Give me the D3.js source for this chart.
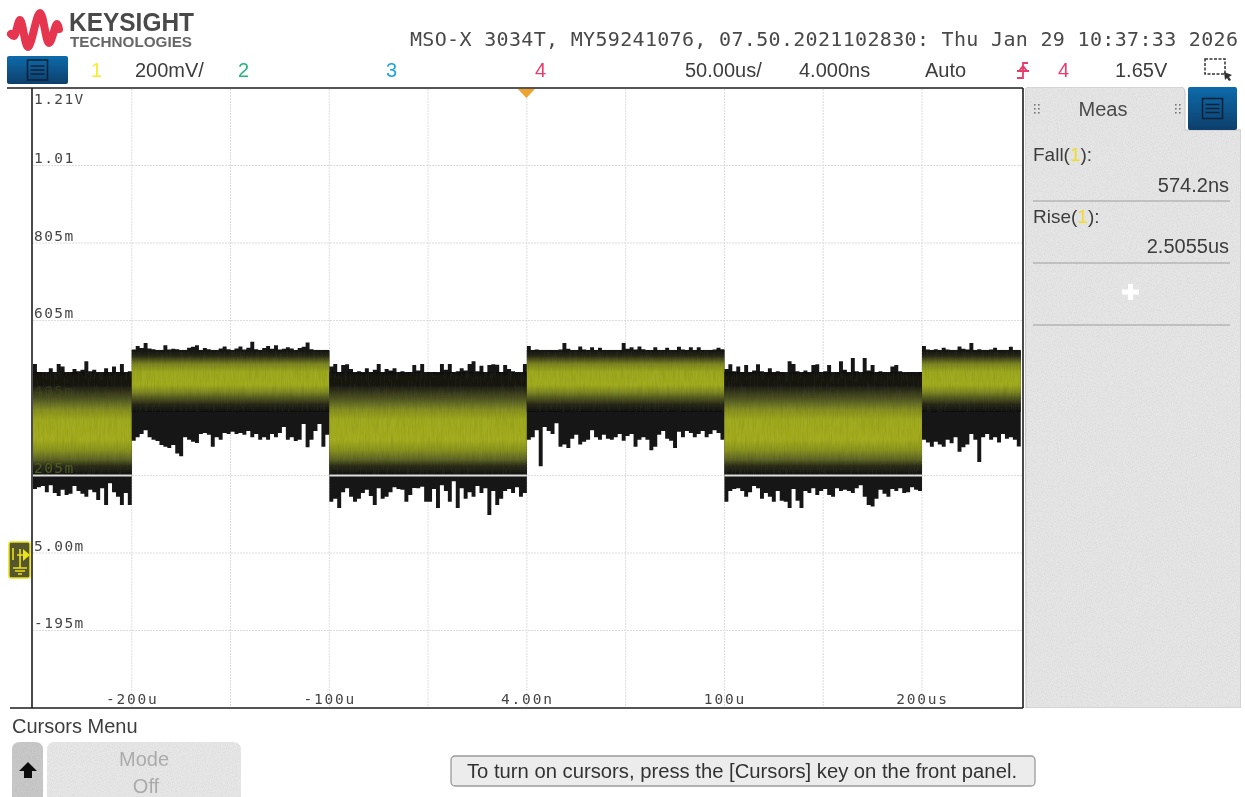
<!DOCTYPE html>
<html>
<head>
<meta charset="utf-8">
<script src="https://cdn.jsdelivr.net/npm/d3@7"></script>
<style>
  html, body { margin: 0; padding: 0; background: #fff; overflow: hidden; }
  text { font-family: "Liberation Sans", Arial, sans-serif; }
  .mono, .mono text { font-family: "DejaVu Sans Mono", monospace; }
</style>
</head>
<body>
<script>
// Scope settings
const statusLine = "MSO-X 3034T, MY59241076, 07.50.2021102830: Thu Jan 29 10:37:33 2026";
const voltTicks = [1205, 1005, 805, 605, 405, 205, 5, -195];
const voltLabels = ["1.21V", "1.01", "805m", "605m", "405m", "205m", "5.00m", "-195m"];
const timeGrid = [-200, -150, -100, -50, 0, 50, 100, 150, 200];
const timeTicks = [-200, -100, 0, 100, 200];
const timeLabels = ["-200u", "-100u", "4.00n", "100u", "200us"];

// Waveform: peak envelope in mV, one sample per 2us, split at each square wave edge
const segmentStart = [-250, -200, -100, 0, 100, 200];
const segmentLevel = ["low", "high", "low", "high", "low", "high"];
const sampleStep = 2;
const envelopeTop = [
  [493,472,470,468,482,470,493,486,467,470,480,474,478,500,474,478,468,466,482,470,486,472,493,470,474],
  [530,539,534,547,533,531,525,527,541,530,532,531,529,526,535,537,541,528,534,531,529,527,533,538,531,527,533,538,530,535,550,531,528,534,539,532,541,530,532,536,533,529,534,537,548,531,528,525,529,527],
  [486,493,472,490,492,480,470,474,466,482,472,478,493,470,480,476,482,470,474,468,472,490,476,493,468,466,472,470,493,478,493,472,474,482,476,493,500,474,488,470,490,492,491,472,490,480,474,468,464,493],
  [539,528,530,526,527,529,526,528,530,547,532,526,528,538,530,527,536,529,535,528,524,526,529,527,547,532,536,530,538,531,528,529,536,528,527,535,529,526,537,530,527,536,529,536,527,525,528,530,535,531],
  [480,492,474,486,472,490,470,476,492,474,468,482,470,474,472,470,500,493,474,470,476,468,490,492,472,474,490,470,468,500,478,470,508,474,470,508,476,490,472,474,468,470,486,490,474,468,466,472,470,472],
  [539,530,528,531,529,535,530,526,527,538,532,530,547,529,531,526,528,530,535,526,525,527,537,529,527]
];
const envelopeBottom = [
  [170,175,178,162,180,160,152,168,155,158,178,165,158,150,168,162,142,172,129,185,162,150,129,160,129],
  [295,304,312,322,304,297,294,284,279,276,284,262,255,304,297,292,289,312,315,310,279,304,297,315,312,318,312,315,310,320,304,312,297,304,297,312,304,315,330,297,304,294,297,338,278,297,320,338,279,310],
  [137,145,121,162,172,150,137,145,160,168,152,129,172,145,150,162,175,170,168,137,155,173,172,176,137,137,170,121,180,165,137,190,121,172,145,162,150,178,160,172,103,165,129,145,165,170,160,175,150,160],
  [297,304,322,229,330,320,312,340,279,285,276,300,310,285,292,297,322,304,297,310,300,297,304,312,295,307,312,279,297,304,297,270,279,310,320,300,295,276,318,304,320,315,304,312,320,304,312,322,315,297],
  [137,165,170,172,165,150,162,178,172,145,160,150,137,165,140,137,121,170,140,121,165,160,172,155,165,170,155,150,172,165,168,165,160,172,180,150,129,125,145,168,158,150,170,165,172,160,162,175,168,165],
  [297,290,279,292,285,279,297,288,304,266,278,285,312,297,240,304,312,297,304,290,312,300,304,297,280]
];

// Density of the trace through each level, brightest where the samples pile up
const bandVolts = {
  low: [472, 439, 421, 400, 374, 348, 297, 271, 245, 230, 206],
  high: [529, 513, 493, 472, 439, 421, 405, 387, 369]
};
const bandColors = {
  low: ["#191919", "#1c1c19", "#363820", "#555b26", "#868f25", "#a0aa22", "#a4ad20", "#8a9424", "#5c6226", "#2e301e", "#181818"],
  high: ["#191919", "#2c2d1b", "#7c8526", "#9ea922", "#a2ac21", "#808a25", "#545924", "#29291c", "#181818"]
};

// Keysight logo outline, pixels of the 60x46 mark
const logoWave = [[11, 34], [14, 36], [20, 20], [28, 47], [40, 13], [49, 43], [57, 24], [59, 29]];

const width = 1245, height = 797;
const svg = d3.select("body").append("svg").attr("width", width).attr("height", height);
const defs = svg.append("defs");

// Scanned paper look
defs.append("filter").attr("id", "soft").attr("x", 0).attr("y", 0).attr("width", 1).attr("height", 1)
  .append("feGaussianBlur").attr("stdDeviation", 0.42);
function addGrain(id, frequency, amount) {
  const f = defs.append("filter").attr("id", id).attr("x", 0).attr("y", 0).attr("width", 1).attr("height", 1);
  f.append("feTurbulence").attr("type", "fractalNoise").attr("baseFrequency", frequency).attr("numOctaves", 2).attr("seed", 4).attr("result", "n");
  f.append("feColorMatrix").attr("in", "n").attr("type", "matrix")
    .attr("values", `0 0 0 0 0  0 0 0 0 0  0 0 0 0 0  ${amount} 0 0 0 ${-amount * 0.4}`).attr("result", "g");
  f.append("feComposite").attr("in", "g").attr("in2", "SourceAlpha").attr("operator", "in").attr("result", "c");
  const m = f.append("feMerge");
  m.append("feMergeNode").attr("in", "SourceGraphic");
  m.append("feMergeNode").attr("in", "c");
}
addGrain("grain", 0.8, 0.2);
addGrain("streak", "0.7 0.06", 0.34);

const root = svg.append("g").attr("filter", "url(#soft)");
root.append("rect").attr("width", width).attr("height", height).attr("fill", "#fff");

// Scales
const x = d3.scaleLinear().domain([-250, 250]).range([33, 1020.75]);
const y = d3.scaleLinear().domain([-395, 1205]).range([708, 88]);

// Grid
const grid = root.append("g").attr("stroke", "#dcdcdc").attr("stroke-dasharray", "2 1");
grid.selectAll(".v").data(timeGrid).join("line").attr("class", "v")
  .attr("x1", d => x(d)).attr("x2", d => x(d)).attr("y1", 89).attr("y2", 707);
grid.selectAll(".h").data(voltTicks.slice(1)).join("line").attr("class", "h")
  .attr("x1", 33).attr("x2", 1022).attr("y1", d => y(d)).attr("y2", d => y(d));

// Trace
const trace = root.append("g");
const area = d3.area().curve(d3.curveStepAfter)
  .x(d => x(d.t)).y0(d => y(d.bottom)).y1(d => y(d.top));
segmentStart.forEach((start, s) => {
  const rows = envelopeTop[s].map((top, i) => ({t: start + i * sampleStep, top: top, bottom: envelopeBottom[s][i]}));
  rows.push({t: start + rows.length * sampleStep, top: rows[rows.length - 1].top, bottom: rows[rows.length - 1].bottom});
  trace.append("path").datum(rows).attr("d", area).attr("fill", "#191919");

  const level = segmentLevel[s];
  const volts = bandVolts[level];
  const top = y(volts[0]), bottom = y(volts[volts.length - 1]);
  const gradient = defs.append("linearGradient").attr("id", "band" + s)
    .attr("x1", 0).attr("x2", 0).attr("y1", 0).attr("y2", 1);
  gradient.selectAll("stop").data(volts).join("stop")
    .attr("offset", d => (y(d) - top) / (bottom - top))
    .attr("stop-color", (d, i) => bandColors[level][i]);
  trace.append("rect")
    .attr("x", x(start)).attr("width", x(rows[rows.length - 1].t) - x(start))
    .attr("y", top).attr("height", bottom - top)
    .attr("fill", `url(#band${s})`).attr("filter", "url(#streak)");
  if (level === "low") {
    trace.append("line").attr("x1", x(start)).attr("x2", x(rows[rows.length - 1].t))
      .attr("y1", y(205)).attr("y2", y(205)).attr("stroke", "#dedede").attr("stroke-width", 2);
  }
});

// Axis labels sit inside the graticule
const yAxis = d3.axisRight(y).tickValues(voltTicks).tickFormat((d, i) => voltLabels[i]).tickSize(0);
const yLabels = root.append("g").attr("class", "mono").attr("transform", "translate(32,0)").call(yAxis);
yLabels.select(".domain").remove();
yLabels.selectAll("text").attr("x", 2).attr("dy", (d, i) => i === 0 ? 15 : -3)
  .attr("font-size", 14.5).attr("letter-spacing", 1.4)
  .attr("fill", d => (d === 405 || d === 205) ? "#4c5a26" : "#454545")
  .attr("opacity", d => d === 405 ? 0.35 : 1);
const xAxis = d3.axisBottom(x).tickValues(timeTicks).tickFormat((d, i) => timeLabels[i]).tickSize(0);
const xLabels = root.append("g").attr("class", "mono").attr("transform", "translate(0,708)").call(xAxis);
xLabels.select(".domain").remove();
xLabels.selectAll("text").attr("y", -4).attr("dy", 0)
  .attr("font-size", 14.5).attr("letter-spacing", 1.8).attr("fill", "#454545");

// Frame
const frame = root.append("g").attr("stroke", "#1d1d1d").attr("stroke-width", 1.6);
frame.append("line").attr("x1", 7).attr("x2", 1023).attr("y1", 88).attr("y2", 88);
frame.append("line").attr("x1", 10).attr("x2", 1023).attr("y1", 708).attr("y2", 708);
frame.append("line").attr("x1", 32).attr("x2", 32).attr("y1", 88).attr("y2", 708);
frame.append("line").attr("x1", 1023).attr("x2", 1023).attr("y1", 88).attr("y2", 708);

// Trigger position marker
root.append("path").attr("fill", "#eda32d")
  .attr("d", d3.line()([[x(0) - 9, 89], [x(0) + 8, 89], [x(0) - 0.5, 98]]));

// Ground marker
const ground = root.append("g");
ground.append("rect").attr("x", 9).attr("y", 542).attr("width", 21).attr("height", 36).attr("rx", 2)
  .attr("fill", "#55562e").attr("stroke", "#e9e21a").attr("stroke-width", 1.5);
ground.append("path").attr("fill", "none").attr("stroke", "#e9e21a").attr("stroke-width", 1.6)
  .attr("d", "M13 548V560 M17 555H25 M20 549V568 M13 568H27 M15 571H25 M18 574H22");
ground.append("path").attr("fill", "#e9e21a").attr("d", "M23 549L30 555L23 561Z");

// Logo and header
root.append("path").datum(logoWave).attr("fill", "none").attr("stroke", "#e6364f")
  .attr("stroke-width", 8).attr("stroke-linejoin", "round").attr("stroke-linecap", "round")
  .attr("d", d3.line().curve(d3.curveCatmullRom.alpha(0.5)));
root.append("text").attr("x", 69).attr("y", 31).attr("font-size", 26).attr("font-weight", 700)
  .attr("fill", "#4a4a4a").attr("textLength", 125).attr("lengthAdjust", "spacingAndGlyphs").text("KEYSIGHT");
root.append("text").attr("x", 70).attr("y", 47).attr("font-size", 14).attr("font-weight", 700)
  .attr("fill", "#666").attr("textLength", 122).attr("lengthAdjust", "spacingAndGlyphs").text("TECHNOLOGIES");
root.append("text").attr("class", "mono").attr("x", 410).attr("y", 46).attr("font-size", 20)
  .attr("fill", "#484848").attr("textLength", 828).attr("lengthAdjust", "spacing").text(statusLine);

function menuButton(bx, by, w, h) {
  const id = "blue" + bx;
  const g = defs.append("linearGradient").attr("id", id).attr("x1", 0).attr("x2", 0).attr("y1", 0).attr("y2", 1);
  g.append("stop").attr("offset", 0).attr("stop-color", "#0f6bab");
  g.append("stop").attr("offset", 1).attr("stop-color", "#0b3f6b");
  root.append("rect").attr("x", bx).attr("y", by).attr("width", w).attr("height", h).attr("rx", 2).attr("fill", `url(#${id})`);
  const cx = bx + w / 2, cy = by + h / 2;
  root.append("rect").attr("x", cx - 10).attr("y", cy - 10).attr("width", 20).attr("height", 20)
    .attr("fill", "none").attr("stroke", "#10233a").attr("stroke-width", 1.6);
  root.append("path").attr("stroke", "#10233a").attr("stroke-width", 1.6)
    .attr("d", `M${cx - 7} ${cy - 4}H${cx + 7} M${cx - 7} ${cy}H${cx + 7} M${cx - 7} ${cy + 4}H${cx + 7}`);
}
menuButton(7, 56, 61, 28);

const header = [
  ["1", 91, "#f5ee2c"], ["200mV/", 135, "#3c3c3c"], ["2", 238, "#25b57a"], ["3", 386, "#1ea3df"],
  ["4", 535, "#ea3a6c"], ["50.00us/", 685, "#3c3c3c"], ["4.000ns", 799, "#3c3c3c"], ["Auto", 925, "#3c3c3c"],
  ["4", 1058, "#ea3a6c"], ["1.65V", 1115, "#3c3c3c"]
];
root.append("g").selectAll("text").data(header).join("text")
  .attr("x", d => d[1]).attr("y", 77).attr("font-size", 20)
  .attr("fill", d => d[2]).text(d => d[0]);
root.append("path").attr("fill", "none").attr("stroke", "#ea3a6c").attr("stroke-width", 1.8)
  .attr("d", "M1028 63H1023V78H1017 M1017 71H1029 M1019 71L1023 66L1027 71");
root.append("rect").attr("x", 1205).attr("y", 59).attr("width", 20).attr("height", 15)
  .attr("fill", "none").attr("stroke", "#333").attr("stroke-width", 1.5).attr("stroke-dasharray", "3 1.5");
root.append("path").attr("fill", "#333").attr("d", "M1224 72L1232 75L1229 77L1231 80L1229 81L1227 78L1225 80Z");

// Measurement panel
const panel = root.append("g");
panel.append("path").attr("fill", "#e5e5e5").attr("stroke", "#c9c9c9").attr("filter", "url(#grain)")
  .attr("d", "M1025 92Q1025 87 1030 87H1180Q1185 87 1185 92V130H1241V708H1026Z");
menuButton(1188, 87, 49, 43);
panel.append("text").attr("x", 1103).attr("y", 116).attr("text-anchor", "middle").attr("font-size", 20).attr("fill", "#4a4a4a").text("Meas");
[1034, 1175].forEach(gx => {
  [0, 1].forEach(c => [0, 1, 2].forEach(r => {
    panel.append("rect").attr("x", gx + c * 4).attr("y", 104 + r * 4).attr("width", 1.6).attr("height", 1.6).attr("fill", "#777");
  }));
});
[201, 263, 325].forEach(ly => {
  panel.append("line").attr("x1", 1033).attr("x2", 1230).attr("y1", ly).attr("y2", ly).attr("stroke", "#b4b4b4").attr("stroke-width", 1.4);
});
const measLabels = [["Fall(", 161], ["Rise(", 223]];
measLabels.forEach(m => {
  const t = panel.append("text").attr("x", 1033).attr("y", m[1]).attr("font-size", 19).attr("fill", "#3c3c3c");
  t.append("tspan").text(m[0]);
  t.append("tspan").attr("fill", "#f0dd2c").text("1");
  t.append("tspan").text("):");
});
[["574.2ns", 192], ["2.5055us", 253]].forEach(m => {
  panel.append("text").attr("x", 1229).attr("y", m[1]).attr("text-anchor", "end").attr("font-size", 20).attr("fill", "#3c3c3c").text(m[0]);
});
panel.append("path").attr("stroke", "#fff").attr("stroke-width", 5).attr("d", "M1122 292H1139 M1130.5 284V300");

// Cursors menu
root.append("text").attr("x", 12).attr("y", 733).attr("font-size", 20).attr("fill", "#3c3c3c").text("Cursors Menu");
root.append("path").attr("fill", "#c8c8c8").attr("filter", "url(#grain)")
  .attr("d", "M12 797V750Q12 742 20 742H35Q43 742 43 750V797Z");
root.append("path").attr("fill", "#111").attr("d", "M28 762L37 771H32V778H24V771H19Z");
root.append("path").attr("fill", "#e6e6e6").attr("filter", "url(#grain)")
  .attr("d", "M47 797V750Q47 742 55 742H233Q241 742 241 750V797Z");
root.append("text").attr("x", 144).attr("y", 766).attr("text-anchor", "middle").attr("font-size", 20).attr("fill", "#ababab").text("Mode");
root.append("text").attr("x", 146).attr("y", 793).attr("text-anchor", "middle").attr("font-size", 20).attr("fill", "#ababab").text("Off");
root.append("rect").attr("x", 451).attr("y", 756).attr("width", 584).attr("height", 30).attr("rx", 4)
  .attr("fill", "#ececec").attr("stroke", "#9a9a9a").attr("stroke-width", 1.3);
root.append("text").attr("x", 467).attr("y", 778).attr("font-size", 20).attr("fill", "#333")
  .attr("textLength", 550).attr("lengthAdjust", "spacingAndGlyphs")
  .text("To turn on cursors, press the [Cursors] key on the front panel.");
</script>
</body>
</html>
